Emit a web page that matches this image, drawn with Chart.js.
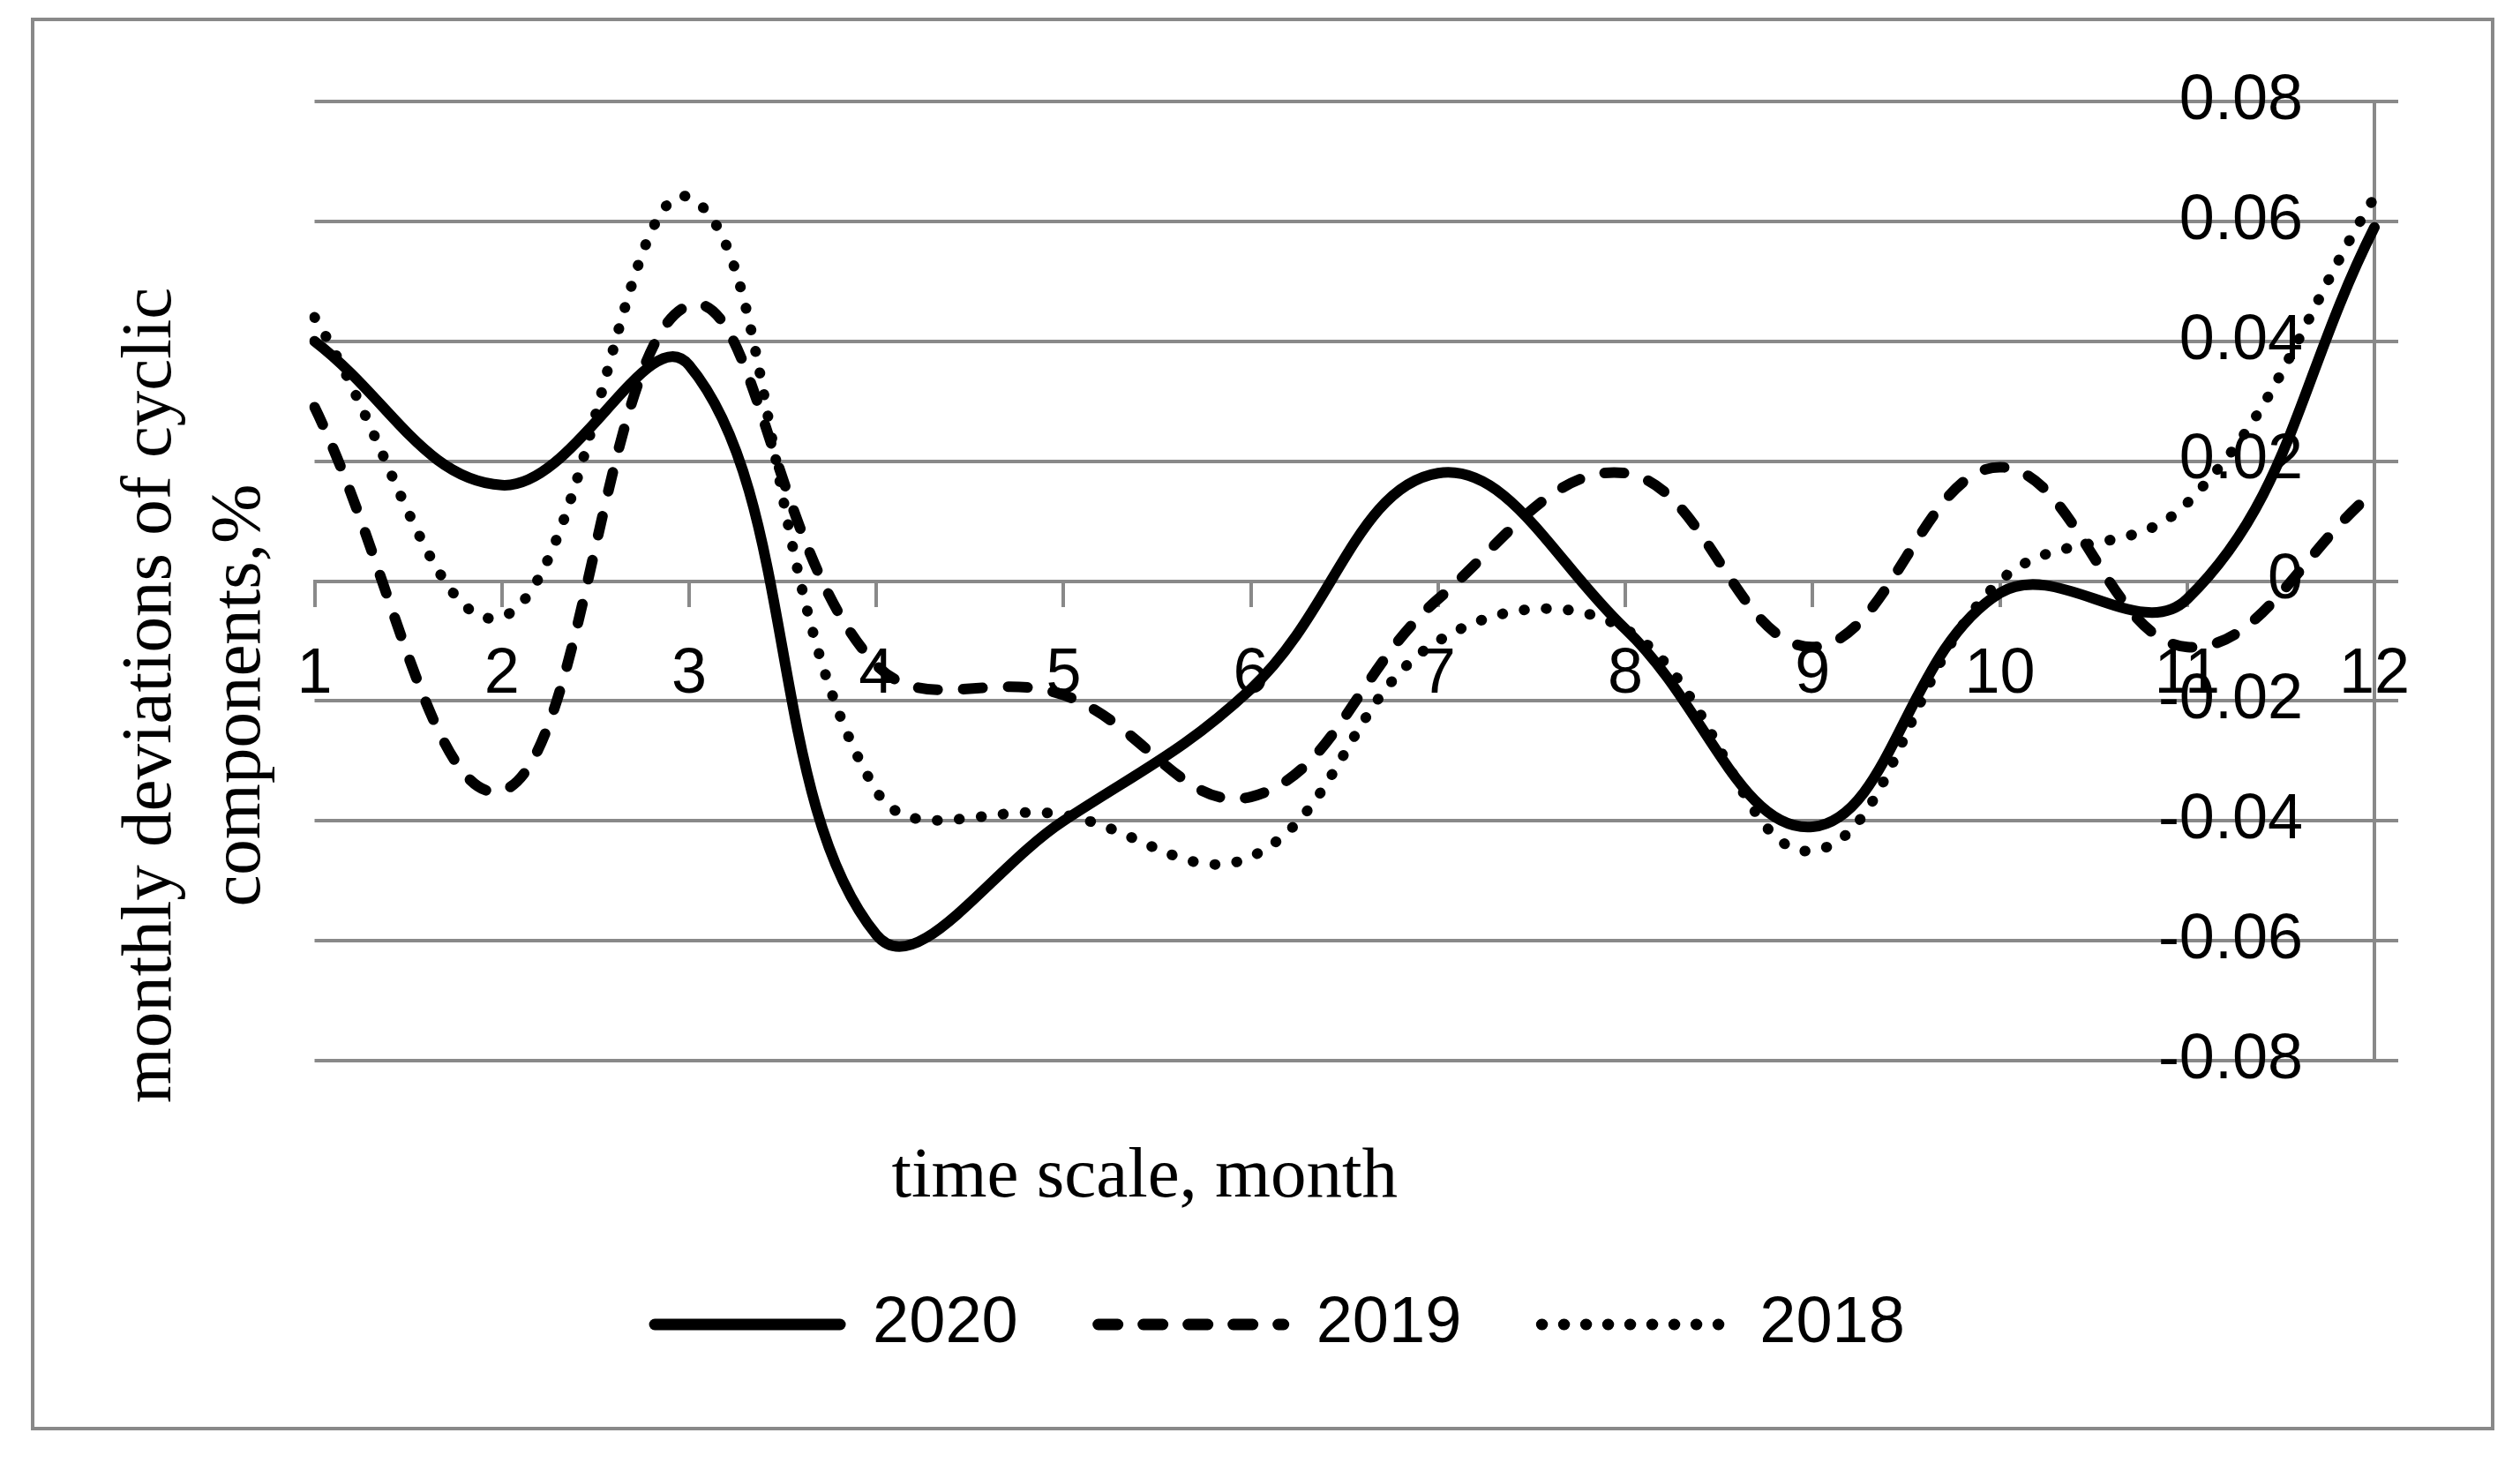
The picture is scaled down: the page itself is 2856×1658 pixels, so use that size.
<!DOCTYPE html>
<html>
<head>
<meta charset="utf-8">
<title>Monthly deviations of cyclic components</title>
<script src="https://cdn.jsdelivr.net/npm/chart.js@4.4.1/dist/chart.umd.min.js"></script>
<style>
    html, body { margin: 0; padding: 0; background: #fff; overflow: hidden; }
    #wrap { position: relative; width: 2856px; height: 1658px; }
    #frame {
        position: absolute; left: 35px; top: 20px; width: 2792px; height: 1601px;
        border: 4px solid #898989; box-sizing: border-box; pointer-events: none;
    }
</style>
</head>
<body>
<div id="wrap">
    <canvas id="lineChart" width="2856" height="1658"></canvas>
    <div id="frame"></div>
</div>
<script>
// values
const months = ["1", "2", "3", "4", "5", "6", "7", "8", "9", "10", "11", "12"];
const seriesNames = ["2020", "2019", "2018"];
const values2020 = [0.040, 0.016, 0.036, -0.059, -0.040, -0.018, 0.018, -0.008, -0.041, -0.002, -0.003, 0.059];
const values2019 = [0.029, -0.035, 0.046, -0.014, -0.019, -0.036, -0.003, 0.018, -0.011, 0.019, -0.011, 0.015];
const values2018 = [0.044, -0.006, 0.064, -0.035, -0.039, -0.046, -0.010, -0.008, -0.045, 0.000, 0.013, 0.064];
const yTickLabels = ["-0.08", "-0.06", "-0.04", "-0.02", "0", "0.02", "0.04", "0.06", "0.08"];
const yTitle = ["monthly deviations of cyclic", "components,%"];
const xTitle = "time scale, month";

const gridGray = "#898989";

Chart.defaults.font.family = "'Liberation Sans', Arial, sans-serif";
Chart.defaults.color = "#000";

// the x title sits left of the centre in the original, so it is drawn here
const xAxisTitle = {
    id: "xAxisTitle",
    afterDraw(chart) {
        const { ctx, chartArea } = chart;
        ctx.save();
        ctx.font = "81px 'Liberation Serif', serif";
        ctx.fillStyle = "#000";
        ctx.textAlign = "center";
        ctx.textBaseline = "middle";
        ctx.fillText(xTitle, chartArea.left + chartArea.width * 0.403, chartArea.bottom + 133);
        ctx.restore();
    }
};

const lineStyle = {
    borderColor: "#000",
    backgroundColor: "#000",
    borderWidth: 12,
    borderCapStyle: "round",
    borderJoinStyle: "round",
    pointRadius: 0,
    pointHoverRadius: 0,
    fill: false,
    tension: 0.4
};

const ctx = document.getElementById("lineChart").getContext("2d");
const lineChart = new Chart(ctx, {
    type: "line",
    data: {
        labels: months,
        datasets: [
            { ...lineStyle, label: seriesNames[0], data: values2020 },
            { ...lineStyle, label: seriesNames[1], data: values2019, borderDash: [22, 29] },
            { ...lineStyle, label: seriesNames[2], data: values2018, borderDash: [0.5, 24.5] }
        ]
    },
    options: {
        responsive: false,
        animation: false,
        layout: {
            padding: { left: 45, right: 0, top: 28, bottom: 110 }
        },
        plugins: {
            tooltip: { enabled: false },
            title: {
                display: true,
                position: "left",
                text: yTitle,
                color: "#000",
                font: { family: "'Liberation Serif', serif", size: 81, weight: "normal", lineHeight: 1.25 },
                padding: { top: 76, bottom: 33 }
            },
            legend: {
                position: "bottom",
                // empty title only keeps the room the x title needs
                title: { display: true, text: "", font: { size: 10 }, padding: { top: 159, bottom: 0 } },
                labels: {
                    usePointStyle: true,
                    pointStyle: "line",
                    pointStyleWidth: 210,
                    padding: 91,
                    color: "#000",
                    font: { size: 74 },
                    // point style items lose the dash, so copy it back from the dataset
                    generateLabels(chart) {
                        const items = Chart.defaults.plugins.legend.labels.generateLabels(chart);
                        items.forEach((item) => {
                            const ds = chart.data.datasets[item.datasetIndex];
                            item.lineDash = ds.borderDash || [];
                            item.lineCap = ds.borderCapStyle;
                            item.lineWidth = 13;
                        });
                        return items;
                    }
                }
            }
        },
        scales: {
            x: {
                type: "category",
                position: { y: 0 },
                offset: false,
                grid: {
                    drawOnChartArea: false,
                    drawTicks: true,
                    tickLength: 27,
                    color: gridGray,
                    lineWidth: 4
                },
                border: { display: true, color: gridGray, width: 4 },
                ticks: {
                    font: { size: 72 },
                    color: "#000",
                    padding: 36,
                    maxRotation: 0,
                    autoSkip: false
                }
            },
            y: {
                position: "right",
                min: -0.08,
                max: 0.08,
                grid: {
                    color: gridGray,
                    lineWidth: 4,
                    drawTicks: true,
                    tickLength: 27
                },
                border: { display: true, color: gridGray, width: 4 },
                ticks: {
                    stepSize: 0.02,
                    mirror: true,
                    padding: -81,
                    font: { size: 72 },
                    color: "#000",
                    callback: (value, index) => yTickLabels[index]
                },
                afterFit(scale) {
                    scale.width = 165;
                    scale.paddingTop = 115;
                    scale.paddingBottom = 0;
                }
            }
        }
    },
    plugins: [xAxisTitle]
});
</script>
</body>
</html>
